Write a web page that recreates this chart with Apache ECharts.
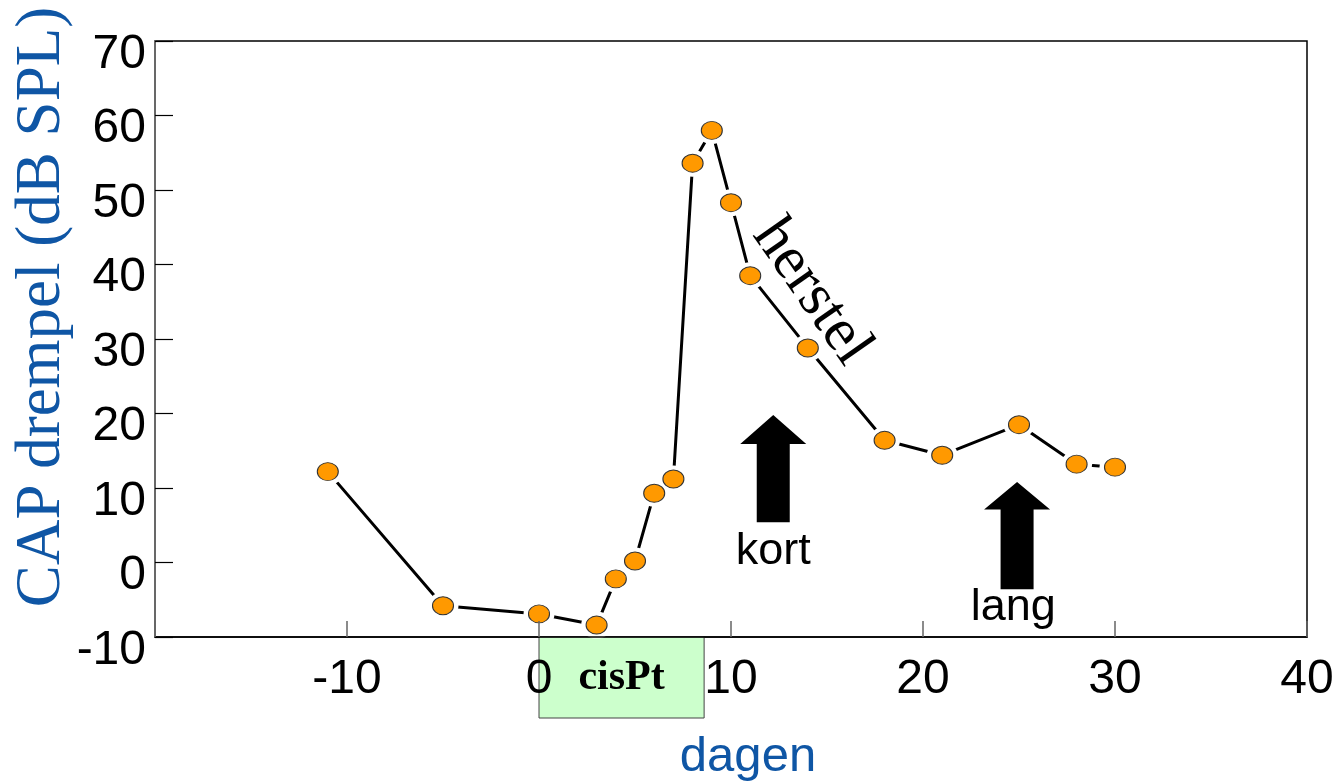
<!DOCTYPE html>
<html><head><meta charset="utf-8">
<script src="https://cdn.jsdelivr.net/npm/echarts@6/dist/echarts.min.js"></script>
<style>html,body{margin:0;padding:0;background:#fff}#c{width:1341px;height:784px}</style>
</head><body><div id="c"></div>
<script>
// data
const days = [-11, -5, 0, 3, 4, 5, 6, 7, 8, 9, 10, 11, 14, 18, 21, 25, 28, 30];
const capThreshold = [12.2, -5.8, -6.9, -8.4, -2.2, 0.2, 9.3, 11.2, 53.6, 58.0, 48.3, 38.5, 28.8, 16.4, 14.4, 18.5, 13.2, 12.8];
const xRange = [-20, 40];
const yRange = [-10, 70];
const tickStep = 10;
// annotations (data coordinates)
const arrowX = [12.2, 24.9];
const arrowTop = [19.8, 10.8];
const arrowNeck = [15.9, 7.1];
const arrowBottom = [5.4, -3.6];
const arrowLabels = ['kort', 'lang'];
const arrowLabelPos = [[12.2, 1.4], [24.7, -6.0]];
const treatmentLabel = 'cisPt';
const treatmentRange = [0, 8.6];
const recoveryLabel = 'herstel';
const recoveryPos = [14.2, 36.3];
const yName = 'CAP drempel (dB SPL)';
const xName = 'dagen';

const points = days.map((d, i) => [d, capThreshold[i]]);
const BLUE = '#0f56a5';
const SANS = '"Liberation Sans", Arial, sans-serif';
const SERIF = '"Liberation Serif", "Times New Roman", serif';

const chart = echarts.init(document.getElementById('c'), null, {renderer: 'canvas'});
chart.setOption({
  animation: false,
  backgroundColor: '#fff',
  grid: {left: 155, right: 34, top: 41, bottom: 147, show: true, borderColor: '#000', borderWidth: 1.5, backgroundColor: 'transparent'},
  xAxis: {
    type: 'value', min: xRange[0], max: xRange[1], interval: tickStep, z: 10,
    axisLine: {show: true, onZero: false, lineStyle: {color: '#000', width: 1.5}},
    axisTick: {show: true, inside: true, length: 16, lineStyle: {color: '#666', width: 1.5}},
    axisLabel: {fontSize: 48, fontFamily: SANS, color: '#000', margin: 19,
      formatter: v => v === xRange[0] ? '' : String(v)},
    splitLine: {show: false}
  },
  yAxis: {
    type: 'value', min: yRange[0], max: yRange[1], interval: tickStep, z: 10,
    axisLine: {show: true, onZero: false, lineStyle: {color: '#777', width: 1.5}},
    axisTick: {show: true, inside: true, length: 18, lineStyle: {color: '#000', width: 1.2}},
    axisLabel: {fontSize: 48, fontFamily: SANS, color: '#000', margin: 9,
      verticalAlign: 'top', lineHeight: 27},
    splitLine: {show: false}
  },
  series: [
    {type: 'line', data: points, symbol: 'none', z: 2, silent: true,
      lineStyle: {color: '#000', width: 3}},
    {type: 'scatter', data: points, symbol: 'circle', symbolSize: [31, 27], z: 3, silent: true,
      itemStyle: {color: '#fff', borderWidth: 0, opacity: 1}},
    {type: 'scatter', data: points, symbol: 'circle', symbolSize: [21, 18], z: 4, silent: true,
      itemStyle: {color: '#ff9900', borderColor: '#333', borderWidth: 1, opacity: 1}}
  ]
});

function px(p) { return chart.convertToPixel({gridIndex: 0}, p); }

const graphics = [];
// arrows
arrowX.forEach((x, i) => {
  const top = px([x, arrowTop[i]]);
  const neck = px([x, arrowNeck[i]]);
  const bot = px([x, arrowBottom[i]]);
  const cx = top[0], sh = 16.5, hh = 33;
  graphics.push({type: 'polygon', z: 20, shape: {points: [
    [cx - sh, bot[1]], [cx - sh, neck[1]], [cx - hh, neck[1]], [cx, top[1]],
    [cx + hh, neck[1]], [cx + sh, neck[1]], [cx + sh, bot[1]]]},
    style: {fill: '#000'}});
  const lp = px(arrowLabelPos[i]);
  graphics.push({type: 'text', z: 20, x: lp[0], y: lp[1], style: {text: arrowLabels[i],
    font: '45px ' + SANS, fill: '#000', align: 'center', verticalAlign: 'middle'}});
});
// treatment box below axis
const b0 = px([treatmentRange[0], yRange[0]]);
const b1 = px([treatmentRange[1], yRange[0]]);
graphics.push({type: 'rect', z: 1, shape: {x: b0[0], y: b0[1], width: b1[0] - b0[0], height: 81},
  style: {fill: '#ccffcc', stroke: '#444', lineWidth: 1}});
graphics.push({type: 'text', z: 2, x: (b0[0] + b1[0]) / 2, y: b0[1] + 41, style: {text: treatmentLabel,
  font: 'bold 42px ' + SERIF, fill: '#000', align: 'center', verticalAlign: 'middle'}});
// recovery label
const rp = px(recoveryPos);
graphics.push({type: 'text', z: 20, x: rp[0], y: rp[1], rotation: -55 * Math.PI / 180,
  style: {text: recoveryLabel, font: '61px ' + SERIF, fill: '#000', align: 'center', verticalAlign: 'middle'}});
// axis names
graphics.push({type: 'text', z: 20, x: 42, y: 307, rotation: Math.PI / 2,
  style: {text: yName, font: '63px ' + SERIF, fill: BLUE, align: 'center', verticalAlign: 'middle'}});
graphics.push({type: 'text', z: 20, x: 748, y: 757,
  style: {text: xName, font: '49px ' + SANS, fill: BLUE, align: 'center', verticalAlign: 'middle'}});

chart.setOption({graphic: graphics});
</script></body></html>
